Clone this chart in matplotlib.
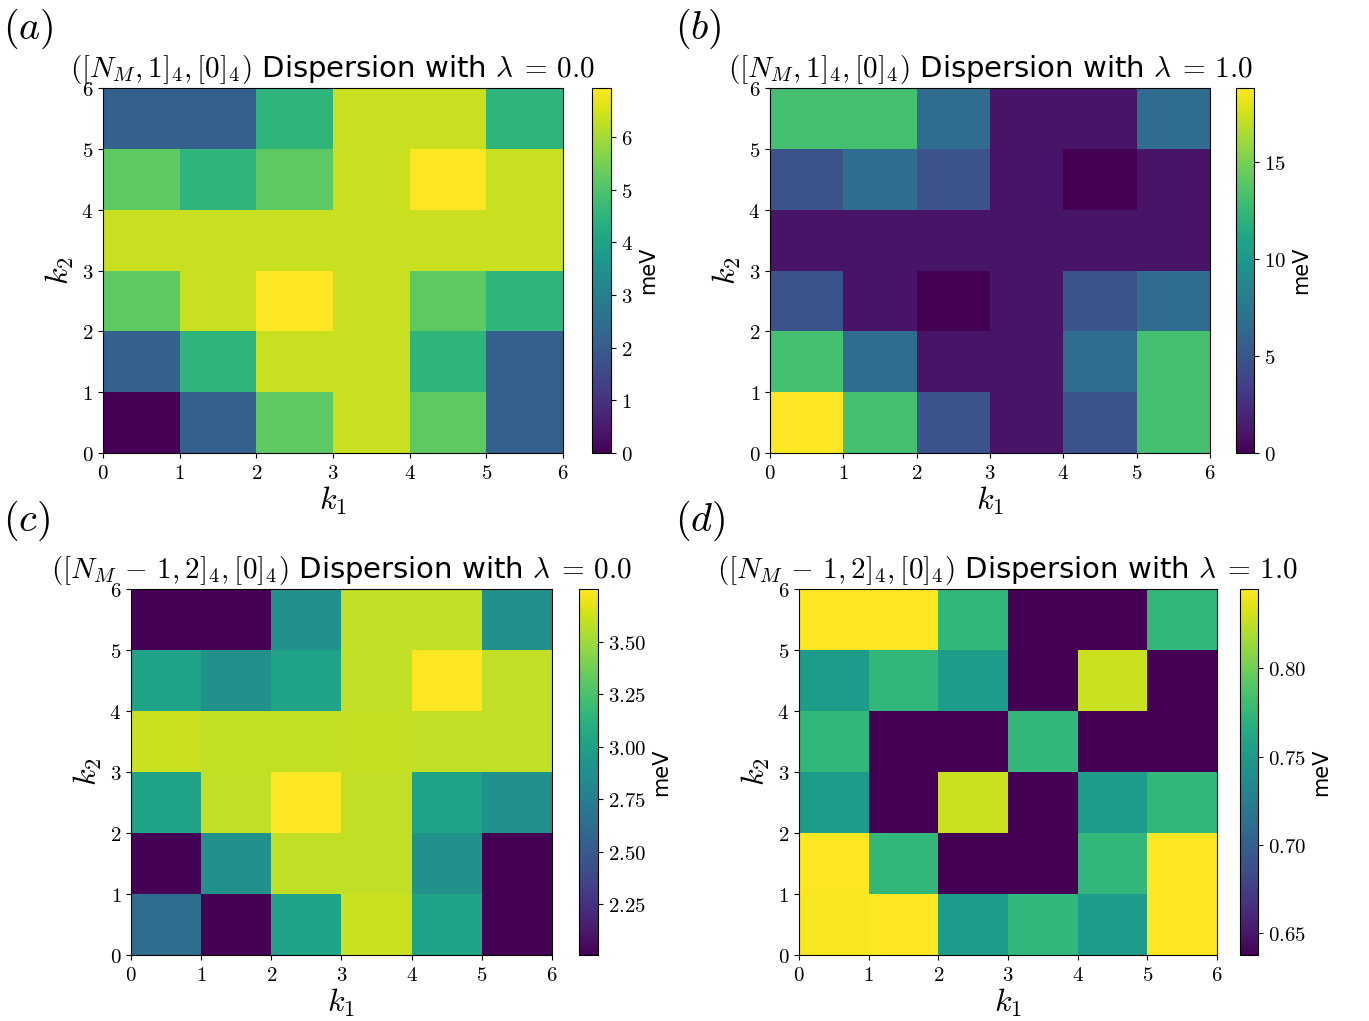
import numpy as np
import matplotlib
matplotlib.use('Agg')
import matplotlib.pyplot as plt

plt.rcParams['mathtext.fontset'] = 'cm'
plt.rcParams['font.family'] = 'DejaVu Sans'

# grid edges in k1 / k2
k_edges = np.arange(7)

# dispersion values (meV), rows are k2 = 0..5, columns k1 = 0..5
disp_a = [
    [0.00, 2.10, 5.20, 6.35, 5.20, 2.10],
    [2.10, 4.50, 6.35, 6.35, 4.50, 2.10],
    [5.20, 6.35, 6.93, 6.35, 5.20, 4.50],
    [6.35, 6.35, 6.35, 6.35, 6.35, 6.35],
    [5.20, 4.50, 5.20, 6.35, 6.93, 6.35],
    [2.10, 2.10, 4.50, 6.35, 6.35, 4.50],
]
disp_b = [
    [18.8, 13.2, 4.7, 1.0, 4.7, 13.2],
    [13.2, 6.6, 1.0, 1.0, 6.6, 13.2],
    [4.7, 1.0, 0.0, 1.0, 4.7, 6.6],
    [1.0, 1.0, 1.0, 1.0, 1.0, 1.0],
    [4.7, 6.6, 4.7, 1.0, 0.0, 1.0],
    [13.2, 13.2, 6.6, 1.0, 1.0, 6.6],
]
disp_c = [
    [2.62, 2.007, 3.02, 3.61, 3.02, 2.007],
    [2.007, 2.88, 3.58, 3.58, 2.88, 2.007],
    [3.02, 3.58, 3.75, 3.58, 3.02, 2.88],
    [3.61, 3.59, 3.59, 3.60, 3.58, 3.58],
    [3.02, 2.88, 3.02, 3.58, 3.75, 3.58],
    [2.007, 2.007, 2.88, 3.58, 3.58, 2.88],
]
disp_d = [
    [0.843, 0.845, 0.751, 0.774, 0.751, 0.845],
    [0.845, 0.774, 0.6375, 0.6375, 0.774, 0.845],
    [0.751, 0.6375, 0.828, 0.6375, 0.751, 0.774],
    [0.774, 0.6375, 0.6375, 0.774, 0.6375, 0.6375],
    [0.751, 0.774, 0.751, 0.6375, 0.828, 0.6375],
    [0.845, 0.845, 0.774, 0.6375, 0.6375, 0.774],
]

panel_tags = ['(a)', '(b)', '(c)', '(d)']
state_names = [r'([N_M,1]_4,[0]_4)', r'([N_M,1]_4,[0]_4)',
               r'([N_M\,-\,1,2]_4,[0]_4)', r'([N_M\,-\,1,2]_4,[0]_4)']
lambdas = ['0.0', '1.0', '0.0', '1.0']
cbar_ticks = [['0', '1', '2', '3', '4', '5', '6'], ['0', '5', '10', '15'],
              ['2.25', '2.50', '2.75', '3.00', '3.25', '3.50'],
              ['0.65', '0.70', '0.75', '0.80']]

fig = plt.figure(figsize=(13.69, 10.21), dpi=100)

# [ax rect, cbar rect, tag position]
layout = [
    ([0.0752, 0.5563, 0.3360, 0.3575], [0.4324, 0.5563, 0.0139, 0.3575], (0.002, 0.950)),
    ([0.5625, 0.5563, 0.3214, 0.3575], [0.9029, 0.5563, 0.0132, 0.3575], (0.493, 0.950)),
    ([0.0957, 0.0646, 0.3075, 0.3585], [0.4229, 0.0646, 0.0139, 0.3585], (0.002, 0.468)),
    ([0.5836, 0.0646, 0.3053, 0.3585], [0.9058, 0.0646, 0.0132, 0.3585], (0.493, 0.468)),
]

for data, tag, name, lam, cticks, (axr, cr, tp) in zip(
        [disp_a, disp_b, disp_c, disp_d], panel_tags, state_names, lambdas,
        cbar_ticks, layout):
    ax = fig.add_axes(axr)
    cax = fig.add_axes(cr)
    im = ax.pcolormesh(k_edges, k_edges, np.array(data), cmap='viridis')
    ax.set_xlim(0, 6)
    ax.set_ylim(0, 6)
    ax.set_xticks(k_edges)
    ax.set_yticks(k_edges)
    ax.set_xticklabels(['$%d$' % k for k in k_edges])
    ax.set_yticklabels(['$%d$' % k for k in k_edges])
    ax.tick_params(labelsize=15)
    ax.set_xlabel(r'$k_1$', fontsize=23, labelpad=1)
    ax.set_ylabel(r'$k_2$', fontsize=23, labelpad=4)
    ax.set_title('$' + name + '$ Dispersion with $\\lambda\\;=\\,' + lam + '$',
                 fontsize=21, pad=8)
    cb = fig.colorbar(im, cax=cax)
    cb.set_ticks([float(t) for t in cticks])
    cb.set_ticklabels(['$' + t + '$' for t in cticks])
    cb.ax.tick_params(labelsize=15)
    cb.set_label('meV', fontsize=15)
    fig.text(tp[0], tp[1], '$' + tag + '$', fontsize=29, va='bottom')

fig.savefig('out.png', dpi=100)
